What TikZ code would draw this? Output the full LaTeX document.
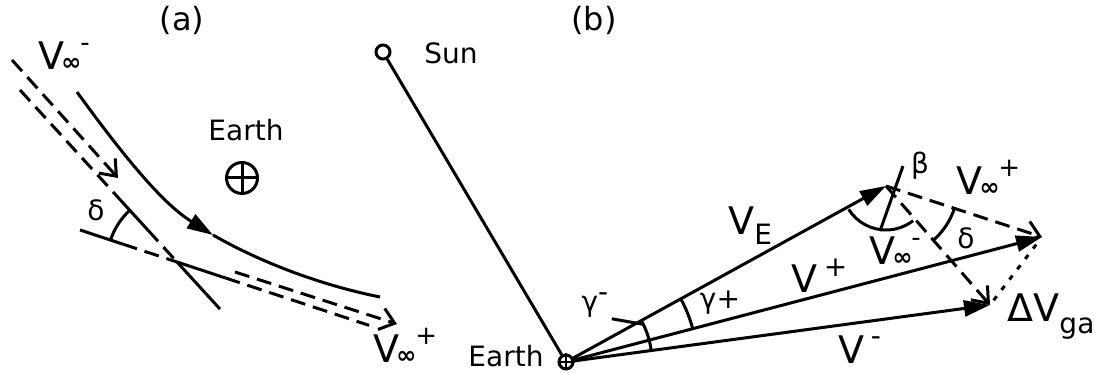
\documentclass[tikz,border=0pt]{standalone}
\usepackage{fontspec}
\setmainfont{DejaVu Sans}
\usepackage{tikz}
\usetikzlibrary{arrows.meta,calc}

\newcommand{\Vinf}[1]{V\kern-1.5pt\raisebox{-0.5pt}{\fontsize{12}{12}\selectfont\bfseries ∞}\kern-0.5pt\raisebox{9pt}{\fontsize{13}{13}\selectfont #1}}

\begin{document}
\begin{tikzpicture}[
  x=0.5pt, y=0.5pt, line width=1.5pt,
  txt/.style={font=\fontsize{14}{14}\selectfont, inner sep=0pt},
  big/.style={font=\fontsize{19}{19}\selectfont, inner sep=0pt},
  vec/.style={-{Triangle[length=13pt,width=8pt]}},
  infvec/.style={dash pattern=on 7.5pt off 4pt, -{Straight Barb[length=7pt,width=11pt]}},
  asym/.style={dash pattern=on 7.5pt off 4pt},
  planet/.style={circle, draw, inner sep=0pt}
]
\useasboundingbox (0,0) rectangle (1094,373);

% (a) hyperbolic passage
\node[txt, font=\fontsize{16}{16}\selectfont] (alabel) at (182,353) {(a)};
\coordinate (ain) at (20,283);
\coordinate (ca) at (177,111);
\coordinate (aout) at (80,143);
\draw[asym] (ain) -- ($(ain)!0.605!(ca)$);
\draw ($(ain)!0.605!(ca)$) -- ($(ain)!0.815!(ca)$);
\draw[asym] ($(ain)!0.815!(ca)$) -- (ca);
\draw (ca) -- ($(ain)!1.274!(ca)$);
\draw (aout) -- ($(aout)!0.44!(ca)$);
\draw[asym] ($(aout)!0.44!(ca)$) -- (ca);
\draw (ca) -- ($(aout)!1.5!(ca)$);
\draw[asym] ($(aout)!1.5!(ca)$) -- ($(aout)!2.98!(ca)$);

\coordinate (vin0) at (12,313);
\coordinate (vin1) at (118,195);
\coordinate (vout0) at (235,101);
\coordinate (vout1) at (397,49);
\draw[infvec] (vin0) -- (vin1);
\draw[infvec] (vout0) -- (vout1);

\coordinate (t0) at (77,281);
\coordinate (tm) at (213,138);
\coordinate (t1) at (380,76);
\draw[vec] (t0) .. controls (130,208) and (165,168) .. (tm);
\draw (tm) .. controls (260,111) and (320,88) .. (t1);

\draw ($(ca)+(132:70)$) arc[start angle=132, end angle=162, radius=70];
\node[txt] (dela) at (96,163) {δ};

\node[txt] (earthlbla) at (246,243) {Earth};
\node[planet, minimum size=15.5pt] (eartha) at (242,195) {};
\draw (eartha.north) -- (eartha.south) (eartha.west) -- (eartha.east);

\node[big, anchor=base west] (vinlbl) at (37,303) {\Vinf{-}};
\node[big, anchor=base west] (voutlbl) at (372,10) {\Vinf{+}};

% (b) velocity triangle
\node[txt, font=\fontsize{16}{16}\selectfont] (blabel) at (594,353) {(b)};
\node[planet, minimum size=7pt] (sun) at (383,321) {};
\node[txt] (sunlbl) at (451,320) {Sun};
\node[planet, minimum size=7pt] (earthb) at (566,11) {};
\draw[line width=1pt] (earthb.north) -- (earthb.south) (earthb.west) -- (earthb.east);
\node[txt, anchor=base east] (earthlblb) at (545,6) {Earth};
\draw (sun) -- (earthb);

\coordinate (apex) at (886,187);
\coordinate (vplus) at (1042,136);
\coordinate (vminus) at (990,68);
\draw[vec] (earthb) -- (apex);
\draw[vec] (earthb) -- (vplus);
\draw[vec] (earthb) -- (vminus);
\draw[infvec] (apex) -- (vplus);
\draw[infvec] (apex) -- (vminus);
\draw[dash pattern=on 2.5pt off 4pt, shorten <=3pt, shorten >=4pt] (vminus) -- (vplus);

\coordinate (b0) at (880,142);
\coordinate (b1) at (903,207);
\draw (b0) -- (b1);
\draw ($(apex)+(212:44)$) arc[start angle=212, end angle=308, radius=44];
\node[txt] (betalbl) at (920,207) {β};
\draw ($(apex)+(-48.8:72)$) arc[start angle=-48.8, end angle=-18.4, radius=72];
\node[txt] (delb) at (966,135) {δ};

\draw ($(earthb.center)+(14.8:131)$) arc[start angle=14.8, end angle=29, radius=131];
\draw ($(earthb.center)+(7.8:86)$) arc[start angle=7.8, end angle=29, radius=86];
\node[txt] (gplus) at (720,70) {γ+};
\node[txt] (gminus) at (595,68) {γ\raisebox{5pt}{-}};
\coordinate (gm) at ($(earthb.center)+(26:86)$);
\draw ([xshift=1pt]gminus.south east) -- (gm);

\node[big, anchor=base west] (velbl) at (727,138) {V\raisebox{-5pt}{\fontsize{14}{14}\selectfont E}};
\node[big, anchor=base west] (vpluslbl) at (790,80) {V\,\raisebox{8pt}{\fontsize{14}{14}\selectfont +}};
\node[big, anchor=base west] (vminuslbl) at (837,9) {V\,\raisebox{9pt}{\fontsize{14}{14}\selectfont -}};
\node[big, anchor=base west] (vinflblp) at (955,178) {\Vinf{+}};
\node[big, anchor=base west] (vinflblm) at (868,108) {\Vinf{-}};
\node[big, anchor=base west] (dvlbl) at (1006,51) {ΔV\raisebox{-6pt}{\fontsize{14}{14}\selectfont ga}};
\end{tikzpicture}
\end{document}
